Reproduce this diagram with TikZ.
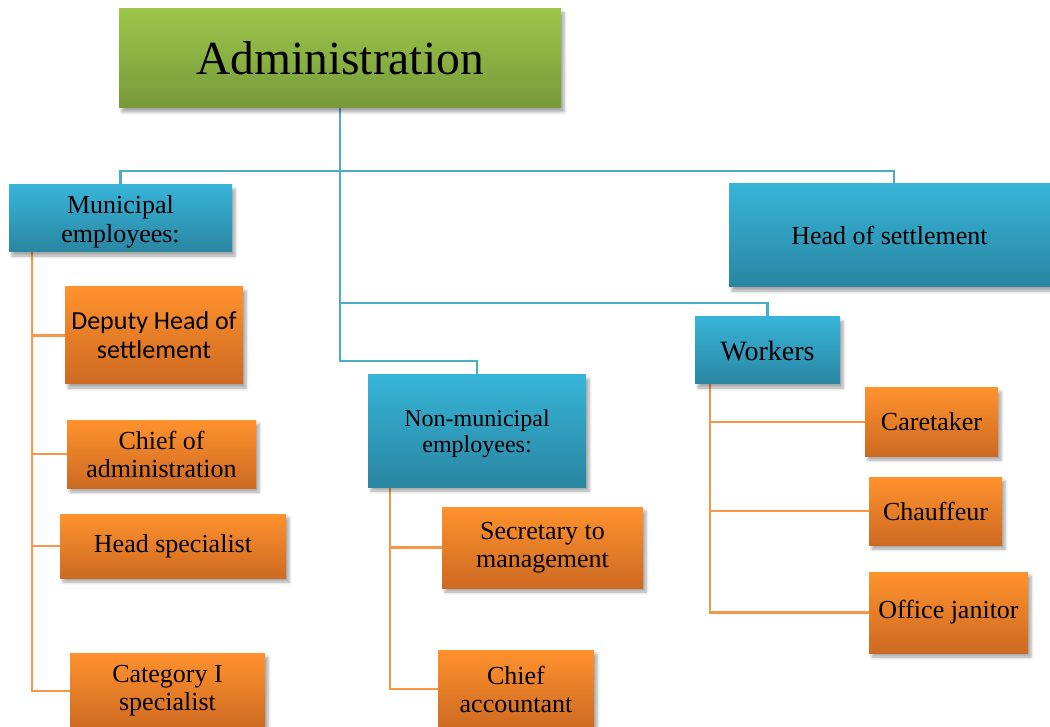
\documentclass[tikz,border=0pt]{standalone}
\usepackage{fontspec}
\setmainfont{Liberation Serif}
\newfontfamily\calibri{Carlito}
\usetikzlibrary{shadows.blur,backgrounds}
\definecolor{gtop}{HTML}{9DC64B}
\definecolor{gbot}{HTML}{77993A}
\definecolor{btop}{HTML}{37B4D8}
\definecolor{bbot}{HTML}{2A86A1}
\definecolor{otop}{HTML}{FF922E}
\definecolor{obot}{HTML}{CD6A22}
\definecolor{lblue}{HTML}{4BACC6}
\definecolor{lorange}{HTML}{F79646}
\tikzset{
  box/.style={inner sep=0pt, align=center, text=black,
    blur shadow={shadow xshift=3pt, shadow yshift=-4pt, shadow blur radius=3pt, shadow opacity=35}},
  greenbox/.style={box, top color=gtop, bottom color=gbot},
  bluebox/.style={box, top color=btop, bottom color=bbot},
  orangebox/.style={box, top color=otop, bottom color=obot},
  bline/.style={draw=lblue, line width=2.2pt},
  oline/.style={draw=lorange, line width=2.2pt},
  t26/.style={font=\fontsize{26}{28}\selectfont},
  t24/.style={font=\fontsize{24}{26}\selectfont},
}
\begin{document}
\begin{tikzpicture}[x=1pt,y=-1pt]
\useasboundingbox (0,0) rectangle (1050,727);
% top
\node[greenbox, minimum width=442pt, minimum height=99pt, font=\fontsize{47.5}{50}\selectfont] (admin) at (340,58.5) {Administration};
% blue level
\node[bluebox, font=\fontsize{26}{29}\selectfont, minimum width=223pt, minimum height=67pt, text depth=-2pt] (muni) at (120.5,218.5) {Municipal\\employees:};
\node[bluebox, t26, minimum width=321pt, minimum height=103pt] (head) at (889.5,235.5) {Head of settlement};
\node[bluebox, font=\fontsize{28}{30}\selectfont, minimum width=145pt, minimum height=67pt] (workers) at (767.5,350.5) {Workers};
\node[bluebox, t24, minimum width=218pt, minimum height=112pt, text depth=-2pt] (nonmuni) at (477,431) {Non-municipal\\employees:};
% municipal employees
\node[orangebox, font=\calibri\fontsize{26}{29}\selectfont, minimum width=178pt, minimum height=97pt] (dep) at (154,335.5) {Deputy Head of\\settlement};
\node[orangebox, t26, minimum width=189pt, minimum height=68pt] (chiefadm) at (161.5,454) {Chief of\\administration};
\node[orangebox, t26, minimum width=226pt, minimum height=64pt] (headspec) at (173,546) {Head specialist};
\node[orangebox, t26, minimum width=195pt, minimum height=76pt] (cat) at (167.5,691) {Category I\\specialist};
% non-municipal
\node[orangebox, t26, minimum width=201pt, minimum height=81pt] (sec) at (542.5,547.5) {Secretary to\\management};
\node[orangebox, t26, minimum width=156pt, minimum height=78pt] (chiefacc) at (516,689) {Chief\\accountant};
% workers
\node[orangebox, t26, minimum width=133pt, minimum height=68pt] (care) at (931.5,422) {Caretaker};
\node[orangebox, t26, minimum width=133pt, minimum height=68pt] (chauf) at (935.5,511) {Chauffeur};
\node[orangebox, t26, minimum width=159pt, minimum height=81pt] (office) at (948.5,612.5) {Office janitor};
% connectors
\begin{scope}[on background layer]
\coordinate (hub) at (340,171);
\path ([yshift=14pt]workers.north) coordinate (wtop);
\path ([yshift=14pt]nonmuni.north) coordinate (ntop);
\path ([xshift=4.5pt]head.north) coordinate (htop);
\draw[bline] (admin.south) -- (hub);
\draw[bline] (muni.north) |- (hub) -| (htop);
\draw[bline] (hub) |- (ntop) -- (nonmuni.north);
\draw[bline] (hub |- wtop) -- (wtop) -- (workers.north);
\draw[oline] ([xshift=23pt]muni.south west) |- (cat.west);
\draw[oline] ([xshift=23pt]muni.south west) |- (dep.west);
\draw[oline] ([xshift=23pt]muni.south west) |- (chiefadm.west);
\draw[oline] ([xshift=23pt]muni.south west) |- (headspec.west);
\draw[oline] ([xshift=22pt]nonmuni.south west) |- (chiefacc.west);
\draw[oline] ([xshift=22pt]nonmuni.south west) |- (sec.west);
\draw[oline] ([xshift=15pt]workers.south west) |- (office.west);
\draw[oline] ([xshift=15pt]workers.south west) |- (care.west);
\draw[oline] ([xshift=15pt]workers.south west) |- (chauf.west);
\end{scope}
\end{tikzpicture}
\end{document}
